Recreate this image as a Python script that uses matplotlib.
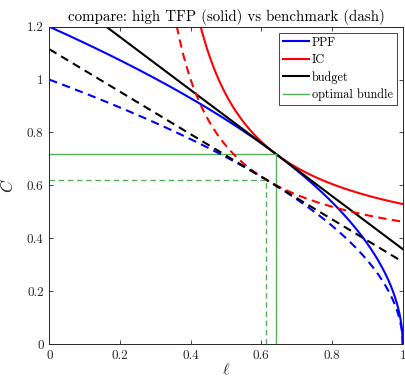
import numpy as np
import matplotlib
matplotlib.use("Agg")
import matplotlib.pyplot as plt

plt.rcParams['font.family'] = 'serif'
plt.rcParams['font.serif'] = ['cmr10']
plt.rcParams['mathtext.fontset'] = 'cm'
plt.rcParams['axes.formatter.use_mathtext'] = True

# Model parameters
tfp = [1.2, 1.0]            # high TFP (solid), benchmark (dash)
scenario_styles = ['-', '--']
alpha = 0.5                 # PPF: C = A (1 - l)^alpha
sigma = 2.0                 # curvature of utility in C
eta = 1.5                   # curvature of utility in leisure
psi = 1.0                   # weight on leisure
xticks = [0, 0.2, 0.4, 0.6, 0.8, 1]
xticklabels = ['0', '0.2', '0.4', '0.6', '0.8', '1']
yticks = [0, 0.2, 0.4, 0.6, 0.8, 1, 1.2]
yticklabels = ['0', '0.2', '0.4', '0.6', '0.8', '1', '1.2']
legend_labels = ['PPF', 'IC', 'budget', 'optimal bundle']

col_ppf = (0, 0, 1)
col_ic = (1, 0, 0)
col_bud = (0, 0, 0)
col_opt = (0.33, 0.69, 0.33)
axcol = (0.15, 0.15, 0.15)


def u(c):
    return c ** (1 - sigma) / (1 - sigma)


def v(l):
    return psi * l ** (1 - eta) / (1 - eta)


fig = plt.figure(figsize=(4.05, 3.8), dpi=100)
ax = fig.add_axes([0.1217, 0.0947, 0.9943 - 0.1217, 0.9297 - 0.0947])

l = np.linspace(0, 1, 4001)
lic = np.linspace(0.05, 1, 4001)

handles = []
for A, ls in zip(tfp, scenario_styles):
    lg = np.linspace(0.001, 0.999, 200001)
    cg = A * (1 - lg) ** alpha
    util = u(cg) + v(lg)
    k = np.argmax(util)
    ls_, cs_ = lg[k], cg[k]
    U = util[k]
    slope = A * alpha * (1 - ls_) ** (alpha - 1)

    dash_kw = dict(dashes=(4, 2.6)) if ls == '--' else {}
    lw = 1.5
    ppf = A * (1 - l) ** alpha
    h1, = ax.plot(l, ppf, color=col_ppf, lw=lw, ls=ls, **dash_kw)
    rhs = U - v(lic)
    with np.errstate(all='ignore'):
        cic = ((1 - sigma) * rhs) ** (1 / (1 - sigma))
    cic = np.where(rhs < 0, cic, np.nan)
    cic = np.where(cic < 2, cic, np.nan)
    h2, = ax.plot(lic, cic, color=col_ic, lw=lw, ls=ls, **dash_kw)
    bud = cs_ + slope * (ls_ - l)
    h3, = ax.plot(l, bud, color=col_bud, lw=lw, ls=ls, **dash_kw)
    h4, = ax.plot([0, ls_], [cs_, cs_], color=col_opt, lw=1.0, ls=ls, **dash_kw)
    ax.plot([ls_, ls_], [0, cs_], color=col_opt, lw=1.0, ls=ls, **dash_kw)
    if ls == '-':
        handles = [h1, h2, h3, h4]

ax.set_xlim(0, 1)
ax.set_ylim(0, 1.2)
ax.set_xticks(xticks)
ax.set_xticklabels(xticklabels)
ax.set_yticks(yticks)
ax.set_yticklabels(yticklabels)
ax.tick_params(direction='in', length=3, width=0.6, top=True, right=True,
               labelsize=9.5, colors=axcol, pad=4)
for sp in ax.spines.values():
    sp.set_color(axcol)
    sp.set_linewidth(0.7)
ax.set_xlabel(r'$\ell$', fontsize=11.5, color=axcol, labelpad=0)
ax.set_ylabel(r'$C$', fontsize=12, color=axcol, labelpad=8)
ax.set_title('compare: high TFP (solid) vs benchmark (dash)', fontsize=10.8, pad=4)

leg = ax.legend(handles, legend_labels, loc='upper right', fontsize=8.8,
                frameon=True, fancybox=False, framealpha=1, edgecolor=axcol,
                handlelength=2.2, handletextpad=0.2, borderpad=0.3,
                labelspacing=0.42, borderaxespad=0.5)
leg.get_frame().set_linewidth(0.6)

fig.savefig('out.png', dpi=100)
